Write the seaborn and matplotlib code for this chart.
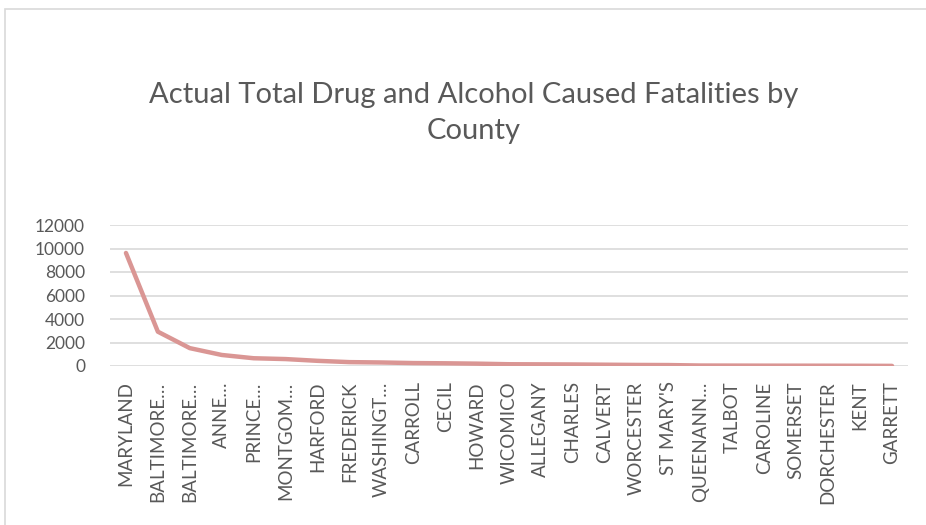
import matplotlib
matplotlib.use("Agg")
import matplotlib.pyplot as plt
import pandas as pd
import seaborn as sns
from matplotlib.patches import Rectangle

counties = [
    "MARYLAND", "BALTIMORE…", "BALTIMORE…", "ANNE…", "PRINCE…", "MONTGOM…",
    "HARFORD", "FREDERICK", "WASHINGT…", "CARROLL", "CECIL", "HOWARD",
    "WICOMICO", "ALLEGANY", "CHARLES", "CALVERT", "WORCESTER", "ST MARY'S",
    "QUEENANN…", "TALBOT", "CAROLINE", "SOMERSET", "DORCHESTER", "KENT", "GARRETT",
]
fatalities = [
    9620, 2920, 1520, 940, 660, 590,
    440, 330, 300, 250, 230, 200,
    150, 140, 130, 110, 90, 80,
    40, 35, 30, 28, 25, 20, 10,
]
y_ticks = [0, 2000, 4000, 6000, 8000, 10000, 12000]

TEXT = "#595959"
GRID = "#d9d9d9"
LINE = "#da9694"

sns.set_style("white")
plt.rcParams["font.family"] = ["Lato", "DejaVu Sans"]

df = pd.DataFrame({"pos": range(len(counties)), "value": fatalities})

fig = plt.figure(figsize=(9.26, 5.25), dpi=100)
ax = fig.add_axes([110 / 926, 1 - 366 / 525, (908 - 110) / 926, (366 - 225) / 525])

# chart frame like the spreadsheet export
fig.patches.append(Rectangle((5 / 926, -0.1), 1.2, (525 - 9) / 525 + 0.1,
                             transform=fig.transFigure, fill=False,
                             edgecolor=GRID, linewidth=1.2))

sns.lineplot(data=df, x="pos", y="value", ax=ax, color=LINE, linewidth=3.2,
             solid_capstyle="round", solid_joinstyle="round")

ax.set_xlim(-0.5, len(counties) - 0.5)
ax.set_ylim(0, 12000)
ax.set_yticks(y_ticks)
ax.set_yticklabels([str(t) for t in y_ticks], fontsize=12.5, color=TEXT)
ax.set_xticks(range(len(counties)))
ax.set_xticklabels(counties, rotation=90, fontsize=13.5, color=TEXT, va="top")
ax.tick_params(axis="x", length=0, pad=11)
ax.tick_params(axis="y", length=0, pad=18)
ax.set_xlabel("")
ax.set_ylabel("")

ax.grid(axis="y", color=GRID, linewidth=1.2)
ax.set_axisbelow(True)
sns.despine(ax=ax, left=True, bottom=True, top=True, right=True)

fig.text(474 / 926, 1 - 113 / 525,
         "Actual Total Drug and Alcohol Caused Fatalities by\nCounty",
         ha="center", va="center", fontsize=21, color=TEXT,
         linespacing=1.45)

fig.savefig("out.png", dpi=100)
